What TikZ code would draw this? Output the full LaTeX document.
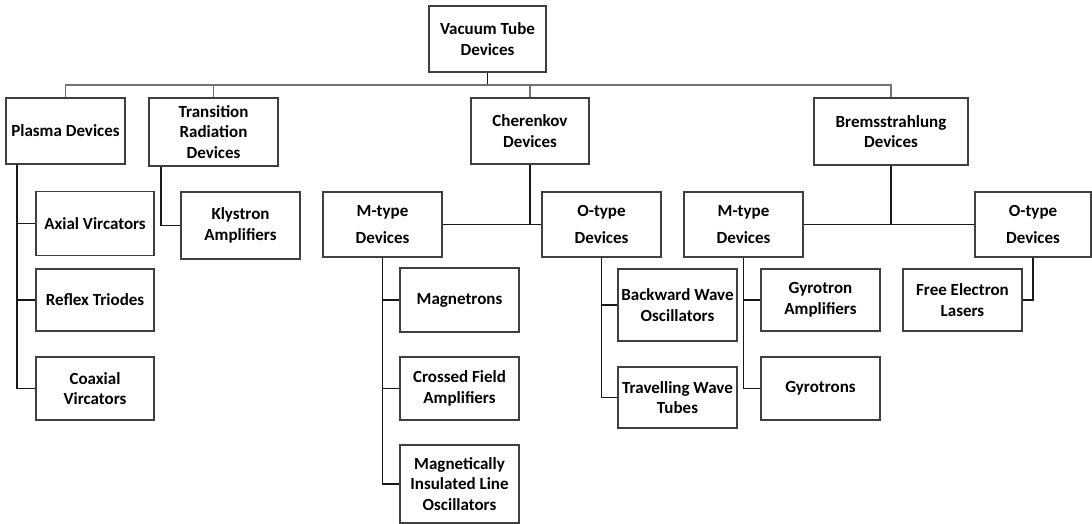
\documentclass[tikz,border=0pt]{standalone}
\usepackage{fontspec}
\setmainfont{Carlito}
\usetikzlibrary{positioning}

\begin{document}
\begin{tikzpicture}[
  x=1pt, y=-1pt,
  box/.style={
    rectangle, draw=black!75, align=center,
    line width=1.7pt, inner sep=2pt,
    font=\bfseries\fontsize{17}{20.5}\selectfont,
    minimum width=119pt, minimum height=64pt
  },
  link/.style={line width=1.5pt, black!90},
  bus/.style={line width=1.5pt, black!55}
]
\useasboundingbox (0,0) rectangle (1092,524);

%% Root
\node[box, minimum width=117pt, minimum height=66pt] (root) at (487.5,39) {Vacuum Tube\\Devices};
\coordinate (bus) at (0,85);

%% First level
\node[box, minimum height=66pt] (plasma) at (65.5,131) {Plasma Devices};
\node[box, minimum width=129pt, minimum height=68pt] (trans) at (213.5,132) {Transition\\Radiation\\Devices};
\node[box, minimum width=118pt, minimum height=66pt] (cher) at (530,131) {Cherenkov\\Devices};
\node[box, minimum width=154pt, minimum height=67pt] (brems) at (891,131.5) {Bremsstrahlung\\Devices};

%% Plasma column
\node[box, minimum width=118pt] (axial) at (95,223.5) {Axial Vircators};
\node[box, minimum width=118pt, minimum height=62pt] (reflex) at (95,300) {Reflex Triodes};
\node[box, minimum width=118pt, minimum height=63pt] (coax) at (95,388.5) {Coaxial\\Vircators};

%% Transition radiation
\node[box, minimum height=67pt] (kly) at (240.5,225.5) {Klystron\\Amplifiers};

%% Cherenkov branch
\node[box, minimum height=65pt] (mC) at (382.5,224.5) {M-type\\[7pt]Devices};
\node[box, minimum height=65pt] (oC) at (601.5,224.5) {O-type\\[7pt]Devices};

\node[box] (mag) at (459.5,300) {Magnetrons};
\node[box, minimum height=63pt] (cfa) at (459.5,388.5) {Crossed Field\\Amplifiers};
\node[box, minimum height=78pt] (milo) at (459.5,484) {Magnetically\\Insulated Line\\Oscillators};

\node[box, minimum height=72pt] (bwo) at (677.5,305) {Backward Wave\\Oscillators};
\node[box, minimum height=61pt] (twt) at (677.5,397.5) {Travelling Wave\\Tubes};

%% Bremsstrahlung branch
\node[box, minimum height=65pt] (mB) at (743.5,224.5) {M-type\\[7pt]Devices};
\node[box, minimum width=116pt, minimum height=65pt] (oB) at (1033,224.5) {O-type\\[7pt]Devices};

\node[box, minimum height=62pt] (gamp) at (820.5,300) {Gyrotron\\Amplifiers};
\node[box, minimum height=63pt] (gyro) at (820.5,388.5) {Gyrotrons};
\node[box, minimum height=62pt] (fel) at (962.5,300) {Free Electron\\Lasers};

%% --- Connectors ---
\draw[link] (root.south) -- (root.south |- bus);
\draw[bus] (plasma.north) -- (plasma.north |- bus) -- (brems.north |- bus) -- (brems.north);
\draw[bus] (trans.north) -- (trans.north |- bus);
\draw[bus] (cher.north) -- (cher.north |- bus);

\coordinate (ptrunk) at ([xshift=12pt]plasma.south west);
\draw[link] (ptrunk) |- (coax.west);
\foreach \n in {axial,reflex}
  \draw[link] (\n.west) -- (\n.west -| ptrunk);

\draw[link] ([xshift=13pt]trans.south west) |- (kly.west);

\draw[link] (cher.south) -- (cher.south |- mC.east);
\draw[link] (mC.east) -- (oC.west);
\foreach \n in {mag,cfa,milo}
  \draw[link] (mC.south) |- (\n.west);
\foreach \n in {bwo,twt}
  \draw[link] (oC.south) |- (\n.west);

\draw[link] (brems.south) -- (brems.south |- mB.east);
\draw[link] (mB.east) -- (oB.west);
\foreach \n in {gamp,gyro}
  \draw[link] (mB.south) |- (\n.west);
\draw[link] (oB.south) |- (fel.east);

\end{tikzpicture}
\end{document}
